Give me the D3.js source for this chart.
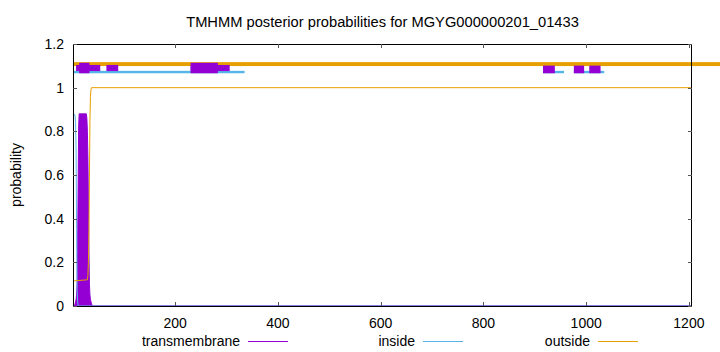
<!DOCTYPE html>
<html><head><meta charset="utf-8">
<script src="https://cdn.jsdelivr.net/npm/d3@7"></script>
<style>body{margin:0;background:#fff}svg{display:block}text{font-family:"Liberation Sans",Arial,sans-serif;fill:#000}</style>
</head><body>
<script>
const title = "TMHMM posterior probabilities for MGYG000000201_01433";
const xTicks = [200, 400, 600, 800, 1000, 1200];
const yTicks = [0, 0.2, 0.4, 0.6, 0.8, 1, 1.2];
const seqLength = 1206;
// posterior probability curves: [residue, probability]
const transmembrane = [[1,0],[4,0],[5,0.01],[6,0.02],[7,0.03],[8,0.05],[9,0.1],[10,0.25],[11,0.55],[12,0.82],[13,0.88],[27,0.88],[28,0.86],[29,0.8],[30,0.68],[31,0.48],[32,0.25],[33,0.1],[34,0.05],[35,0.03],[36,0.02],[37,0.01],[38,0.005],[39,0],[1206,0]];
const inside = [[1,0.88],[4,0.878],[5,0.87],[6,0.84],[7,0.72],[8,0.35],[9,0.08],[10,0.02],[11,0],[1206,0]];
const outside = [[1,0.115],[29,0.12],[30,0.14],[31,0.2],[32,0.35],[33,0.6],[34,0.85],[35,0.96],[36,0.99],[37,1],[1206,1]];
// header bars: [start, end]
const outsideBars = [[1, 1262]];
const insideBars = [[1, 335], [916, 957], [976, 1035]];
const tmBoxesTall = [[13, 33], [230, 283]];
const tmBoxesThin = [[7, 54], [66, 89], [230, 306]];
const tmBoxesLow = [[916, 939], [976, 996], [1006, 1028]];
const legend = ["transmembrane", "inside", "outside"];

const W = 720, H = 352;
const m = {l: 73, r: 28, t: 44, b: 46};
const colors = {transmembrane: "#9400d3", inside: "#56b4e9", outside: "#e69f00"};
const svg = d3.select("body").append("svg").attr("width", W).attr("height", H);
const x = d3.scaleLinear().domain([1, seqLength]).range([m.l, W - m.r]);
const y = d3.scaleLinear().domain([0, 1.2]).range([H - m.b, m.t]);

svg.append("text").attr("x", (m.l + W - m.r) / 2).attr("y", 27).attr("text-anchor", "middle")
  .style("font-size", "14.7px").text(title);

// curves
svg.append("path").datum(transmembrane)
  .attr("d", d3.area().x(d => x(d[0])).y0(y(0)).y1(d => y(d[1])))
  .attr("fill", colors.transmembrane).attr("stroke", colors.transmembrane).attr("stroke-width", 1);
const line = d3.line().x(d => x(d[0])).y(d => y(d[1]));
svg.append("path").datum(inside).attr("d", line).attr("fill", "none").attr("stroke", colors.inside).attr("stroke-width", 1);
svg.append("path").datum(outside).attr("d", line).attr("fill", "none").attr("stroke", colors.outside).attr("stroke-width", 1);

// header
const hdr = svg.append("g");
hdr.selectAll(".ob").data(outsideBars).enter().append("rect")
  .attr("x", d => x(d[0])).attr("width", d => x(d[1]) - x(d[0]))
  .attr("y", y(1.117)).attr("height", y(1.099) - y(1.117)).attr("fill", colors.outside);
hdr.selectAll(".ib").data(insideBars).enter().append("rect")
  .attr("x", d => x(d[0])).attr("width", d => x(d[1]) - x(d[0]))
  .attr("y", y(1.077)).attr("height", y(1.066) - y(1.077)).attr("fill", colors.inside);
hdr.selectAll(".tt").data(tmBoxesThin).enter().append("rect")
  .attr("x", d => x(d[0])).attr("width", d => x(d[1]) - x(d[0]))
  .attr("y", y(1.104)).attr("height", y(1.076) - y(1.104)).attr("fill", colors.transmembrane);
hdr.selectAll(".tl").data(tmBoxesTall).enter().append("rect")
  .attr("x", d => x(d[0])).attr("width", d => x(d[1]) - x(d[0]))
  .attr("y", y(1.114)).attr("height", y(1.066) - y(1.114)).attr("fill", colors.transmembrane);
hdr.selectAll(".tw").data(tmBoxesLow).enter().append("rect")
  .attr("x", d => x(d[0])).attr("width", d => x(d[1]) - x(d[0]))
  .attr("y", y(1.101)).attr("height", y(1.066) - y(1.101)).attr("fill", colors.transmembrane);

// border
const x0 = m.l, x1 = W - m.r, y0 = H - m.b, y1 = m.t;
svg.append("rect").attr("x", x0 + 0.5).attr("y", y1 + 0.5).attr("width", x1 - x0 - 1).attr("height", y0 - y1)
  .attr("fill", "none").attr("stroke", "#000").attr("stroke-width", 1);

// ticks
const tl = 4;
const tg = svg.append("g").attr("stroke", "#555").attr("stroke-width", 1);
xTicks.forEach(t => {
  const px = Math.round(x(t)) + 0.5;
  tg.append("line").attr("x1", px).attr("x2", px).attr("y1", y0).attr("y2", y0 - tl);
  tg.append("line").attr("x1", px).attr("x2", px).attr("y1", y1).attr("y2", y1 + tl);
  svg.append("text").attr("x", x(t)).attr("y", 328).attr("text-anchor", "middle").style("font-size", "14px").text(t);
});
yTicks.forEach(t => {
  const py = Math.round(y(t)) + 0.5;
  tg.append("line").attr("x1", x0).attr("x2", x0 + tl).attr("y1", py).attr("y2", py);
  tg.append("line").attr("x1", x1).attr("x2", x1 - tl).attr("y1", py).attr("y2", py);
  svg.append("text").attr("x", 64).attr("y", y(t) + 5).attr("text-anchor", "end").style("font-size", "14px").text(t);
});

svg.append("text").attr("transform", "translate(21,175) rotate(-90)").attr("text-anchor", "middle")
  .style("font-size", "14px").text("probability");

// legend
const legX = [240, 415, 590];
legend.forEach((k, i) => {
  svg.append("text").attr("x", legX[i]).attr("y", 346).attr("text-anchor", "end").style("font-size", "14px").text(k);
  svg.append("line").attr("x1", legX[i] + 8).attr("x2", legX[i] + 48).attr("y1", 341.5).attr("y2", 341.5)
    .attr("stroke", colors[k]).attr("stroke-width", 1);
});
</script>
</body></html>
